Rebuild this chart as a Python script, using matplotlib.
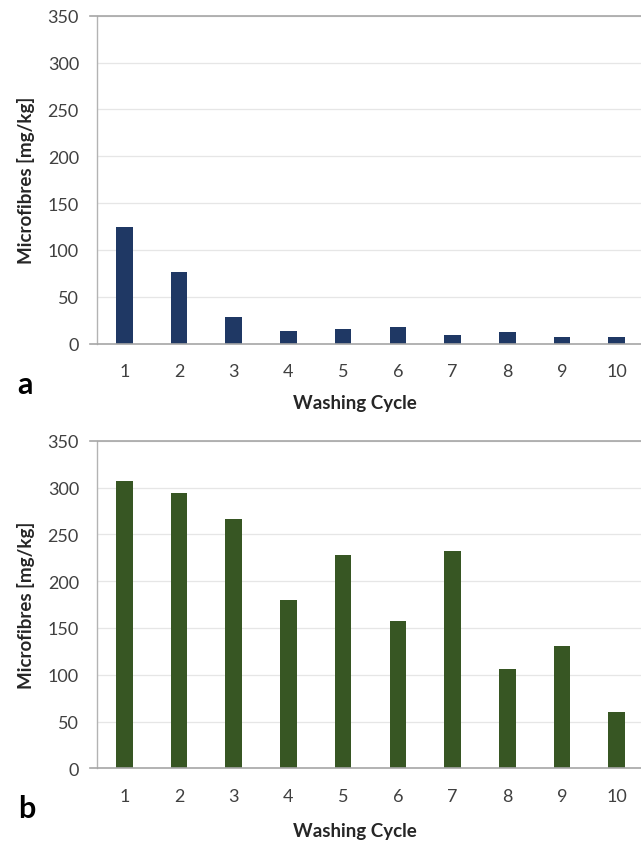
import matplotlib
matplotlib.use("Agg")
import matplotlib.pyplot as plt
import numpy as np

cycles = ["1", "2", "3", "4", "5", "6", "7", "8", "9", "10"]
values_a = [125, 76, 29, 14, 16, 18, 9, 12, 7.5, 7.5]
values_b = [307, 294, 266, 180, 228, 157, 232, 106, 131, 60]
yticks = [0, 50, 100, 150, 200, 250, 300, 350]

plt.rcParams['font.family'] = ['Lato', 'DejaVu Sans']

W, H = 641, 845
fig = plt.figure(figsize=(W / 100, H / 100), dpi=100)

def px_axes(left, top, right, bottom):
    return [left / W, 1 - bottom / H, (right - left) / W, (bottom - top) / H]

def draw(ax, vals, color):
    x = np.arange(len(cycles))
    ax.bar(x, vals, width=0.305, color=color, zorder=3)
    ax.set_xlim(-0.5, len(cycles) - 0.5)
    ax.set_ylim(0, 350)
    ax.set_yticks(yticks)
    ax.set_xticks(x)
    ax.set_xticklabels(cycles)
    ax.grid(axis='y', color='#e6e6e6', linewidth=0.9, zorder=0)
    for s in ['top', 'right', 'bottom']:
        ax.spines[s].set_visible(False)
    ax.spines['left'].set_color('#b3b3b3')
    ax.spines['left'].set_linewidth(1.0)
    for yy in (0, 1):
        ax.plot([-7 / 547, 1], [yy, yy], transform=ax.transAxes, color='#a6a6a6',
                linewidth=1.2, clip_on=False, zorder=4)
    ax.tick_params(axis='both', length=0, labelsize=13, colors='#404040')
    ax.tick_params(axis='y', pad=13)
    ax.tick_params(axis='x', pad=14)
    ax.set_ylabel('Microfibres [mg/kg]', fontsize=13.5, fontweight='bold', color='#262626', labelpad=9)

ax1 = fig.add_axes(px_axes(97, 16.7, 644, 344.7))
draw(ax1, values_a, '#1f3864')
ax2 = fig.add_axes(px_axes(97, 441.7, 644, 769.3))
draw(ax2, values_b, '#375623')

fig.text(355 / W, 1 - 403 / H, 'Washing Cycle', ha='center', va='center', fontsize=13.5, fontweight='bold', color='#262626')
fig.text(355 / W, 1 - 831.5 / H, 'Washing Cycle', ha='center', va='center', fontsize=13.5, fontweight='bold', color='#262626')
fig.text(25 / W, 1 - 385 / H, 'a', ha='center', va='center', fontsize=22, fontweight='bold', color='#000000')
fig.text(27 / W, 1 - 809 / H, 'b', ha='center', va='center', fontsize=22, fontweight='bold', color='#000000')

fig.savefig('out.png', dpi=100)
